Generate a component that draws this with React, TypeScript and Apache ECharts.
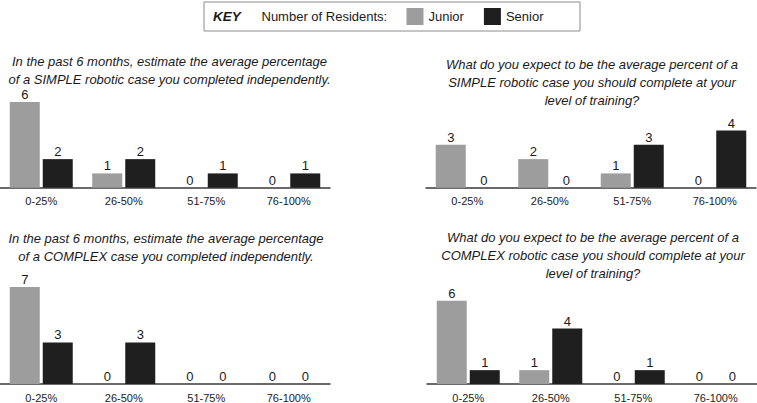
import {useEffect, useRef} from "react";
import * as echarts from "echarts";

const categories = ["0-25%", "26-50%", "51-75%", "76-100%"];

const simpleDoneJunior = [6, 1, 0, 0];
const simpleDoneSenior = [2, 2, 1, 1];
const simpleExpectJunior = [3, 2, 1, 0];
const simpleExpectSenior = [0, 0, 3, 4];
const complexDoneJunior = [7, 0, 0, 0];
const complexDoneSenior = [3, 3, 0, 0];
const complexExpectJunior = [6, 1, 0, 0];
const complexExpectSenior = [1, 4, 1, 0];

const titles = [
    "In the past 6 months, estimate the average percentage\nof a SIMPLE robotic case you completed independently.",
    "What do you expect to be the average percent of a\nSIMPLE robotic case you should complete at your\nlevel of training?",
    "In the past 6 months, estimate the average percentage\nof a COMPLEX case you completed independently.",
    "What do you expect to be the average percent of a\nCOMPLEX robotic case you should complete at your\nlevel of training?",
];

const FONT = "'Liberation Sans', Arial, Helvetica, sans-serif";
const JUNIOR = "#9d9d9d";
const SENIOR = "#1f1f1f";
const INK = "#1a1a1a";

// panel layout: grid rect + title anchor
const panels = [
    {left: 0, top: 87.7, titleX: 169.5, titleY: 52},
    {left: 426, top: 87.7, titleX: 592, titleY: 55},
    {left: 0, top: 287, titleX: 166, titleY: 229.5},
    {left: 427, top: 287, titleX: 593, titleY: 228.5},
];

const panelData = [
    [simpleDoneJunior, simpleDoneSenior],
    [simpleExpectJunior, simpleExpectSenior],
    [complexDoneJunior, complexDoneSenior],
    [complexExpectJunior, complexExpectSenior],
];

export default function App() {
    const domRef = useRef<HTMLDivElement>(null);

    useEffect(() => {
        if (!domRef.current) return;
        const chart = echarts.init(domRef.current, null, {renderer: "svg"});

        const label = {show: true, position: "top", distance: 1, fontSize: 13, color: INK, fontFamily: FONT};

        chart.setOption({
            animation: false,
            backgroundColor: "#fff",
            textStyle: {fontFamily: FONT},
            grid: panels.map(p => ({left: p.left, top: p.top, width: 330, height: 100})),
            xAxis: panels.map((_, i) => ({
                type: "category",
                gridIndex: i,
                data: categories,
                axisLine: {lineStyle: {color: "#3a3a3a", width: 1.5}},
                axisTick: {show: false},
                axisLabel: {fontSize: 11, color: INK, margin: 8, fontFamily: FONT},
            })),
            yAxis: panels.map((_, i) => ({
                type: "value",
                gridIndex: i,
                min: 0,
                max: 7,
                show: false,
                splitLine: {show: false},
            })),
            legend: {
                left: 406.5,
                top: 8,
                padding: 0,
                itemWidth: 17,
                itemHeight: 17,
                itemGap: 20,
                icon: "rect",
                data: ["Junior", "Senior"],
                textStyle: {fontSize: 13, color: INK, fontFamily: FONT},
            },
            series: panelData.flatMap(([jun, sen], i) => [
                {
                    name: "Junior", type: "bar", xAxisIndex: i, yAxisIndex: i, data: jun,
                    barWidth: 30, barGap: "10%", itemStyle: {color: JUNIOR}, label,
                },
                {
                    name: "Senior", type: "bar", xAxisIndex: i, yAxisIndex: i, data: sen,
                    barWidth: 30, barGap: "10%", itemStyle: {color: SENIOR}, label,
                },
            ]),
            graphic: [
                {
                    type: "rect",
                    shape: {x: 204, y: 2, width: 376, height: 29},
                    style: {fill: "#fff", stroke: "#8c8c8c", lineWidth: 1},
                    z: -1,
                },
                {
                    type: "text",
                    x: 213, y: 16,
                    style: {
                        text: "KEY", fill: INK, font: `italic bold 13.5px ${FONT}`,
                        verticalAlign: "middle", textVerticalAlign: "middle",
                    },
                },
                {
                    type: "text",
                    x: 261.5, y: 16.5,
                    style: {
                        text: "Number of Residents:", fill: INK, font: `13px ${FONT}`,
                        verticalAlign: "middle", textVerticalAlign: "middle",
                    },
                },
                ...panels.map((p, i) => ({
                    type: "text",
                    x: p.titleX,
                    y: p.titleY,
                    style: {
                        text: titles[i],
                        fill: INK,
                        font: `italic 13px ${FONT}`,
                        lineHeight: 18,
                        align: "center",
                        textAlign: "center",
                        verticalAlign: "top",
                        textVerticalAlign: "top",
                    },
                })),
            ],
        });

        return () => chart.dispose();
    }, []);

    return <div ref={domRef} style={{position: "absolute", left: 0, top: 0, width: 757, height: 403}} />;
}
